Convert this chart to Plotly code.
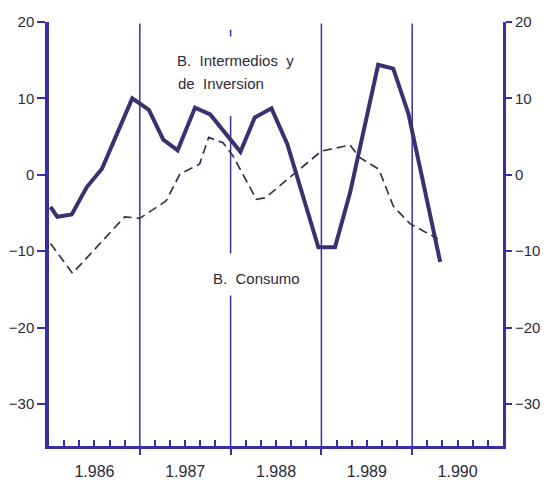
import plotly.graph_objects as go

# months counted from January 1986
bienes_interm_months = [0.2, 1.1, 3.0, 5.0, 7.0, 11.0, 13.2, 15.1, 17.0, 19.3, 21.3, 25.3,
                        27.2, 29.4, 31.5, 35.6, 37.8, 39.8, 43.5, 45.5, 47.5, 51.7]
bienes_interm_values = [-4.2, -5.5, -5.2, -1.6, 0.8, 10.0, 8.5, 4.6, 3.2, 8.8, 7.9, 3.0,
                        7.5, 8.7, 4.0, -9.5, -9.5, -2.3, 14.4, 13.9, 8.0, -11.4]

bienes_consumo_months = [0.2, 3.1, 10.0, 12.0, 15.5, 17.3, 19.9, 21.1, 23.0, 24.3, 27.4, 28.6,
                         36.0, 39.8, 41.0, 43.6, 45.5, 47.7, 51.4]
bienes_consumo_values = [-9.0, -12.9, -5.5, -5.7, -3.4, 0.1, 1.4, 4.9, 4.2, 2.5, -3.2, -3.0,
                         3.1, 3.9, 2.3, 0.7, -4.1, -6.4, -8.4]

year_labels = ["1.986", "1.987", "1.988", "1.989", "1.990"]
year_label_pos = [6, 18, 30, 42, 54]
year_bounds = [12, 24, 36, 48]
y_ticks = [-30, -20, -10, 0, 10, 20]
y_range = [-35.5, 20]
x_range = [0, 60]

AX = "#3a2ea6"
SOLID = "#3a3170"
DASH = "#34344a"
TXT = "#2b2b3a"
FONT = "Liberation Sans"

fig = go.Figure()
fig.add_trace(go.Scatter(x=bienes_consumo_months, y=bienes_consumo_values, mode="lines",
                         line=dict(color=DASH, width=1.7, dash="9px,5px"),
                         yaxis="y2", showlegend=False, hoverinfo="skip"))
fig.add_trace(go.Scatter(x=bienes_interm_months, y=bienes_interm_values, mode="lines",
                         line=dict(color=SOLID, width=4), showlegend=False, hoverinfo="skip"))
# invisible trace to activate label axis
fig.add_trace(go.Scatter(x=[x_range[0]], y=[0], xaxis="x2", mode="none",
                         showlegend=False, hoverinfo="skip"))

# vertical year lines
for xb in year_bounds:
    if xb == 24:
        segs = [(18.1, 19.0), (-10.3, 7.7), (-35.5, -15.8)]
    else:
        segs = [(-35.5, 19.8)]
    for y0, y1 in segs:
        fig.add_shape(type="line", x0=xb, x1=xb, y0=y0, y1=y1, xref="x", yref="y",
                      line=dict(color=AX, width=1.5), layer="below")

fig.add_annotation(x=16.7, y=14.9, text="B.  Intermedios  y", showarrow=False,
                   xanchor="left", yanchor="middle", font=dict(family=FONT, size=15, color=TXT))
fig.add_annotation(x=16.8, y=11.9, text="de  Inversion", showarrow=False,
                   xanchor="left", yanchor="middle", font=dict(family=FONT, size=15, color=TXT))
fig.add_annotation(x=21.4, y=-13.6, text="B.  Consumo", showarrow=False,
                   xanchor="left", yanchor="middle", font=dict(family=FONT, size=15, color=TXT))

fig.update_layout(
    width=548, height=472,
    margin=dict(l=41, r=53, t=14, b=34, autoexpand=False),
    paper_bgcolor="white", plot_bgcolor="white",
    font=dict(family=FONT, size=14, color=TXT),
    xaxis=dict(range=x_range, showgrid=False, zeroline=False, automargin=False,
               showline=True, linecolor=AX, linewidth=3,
               tickmode="array", tickvals=year_bounds, ticktext=["", "", "", ""],
               ticks="outside", ticklen=6, tickwidth=1.5, tickcolor=AX,
               minor=dict(tickmode="array", tickvals=[m for m in range(2, 60, 2) if m % 12],
                          ticks="inside", ticklen=6, tickwidth=1.5, tickcolor=AX,
                          showgrid=False)),
    xaxis2=dict(range=x_range, overlaying="x", side="bottom", anchor="y", automargin=False,
                showgrid=False, zeroline=False, showline=False,
                tickmode="array", tickvals=year_label_pos, ticktext=year_labels,
                ticks="", tickfont=dict(size=16, color=TXT), ticklabelstandoff=14),
    yaxis=dict(range=y_range, showgrid=False, zeroline=False, automargin=False,
               showline=True, linecolor=AX, linewidth=3.5,
               tickmode="array", tickvals=y_ticks,
               ticks="outside", ticklen=8, tickwidth=2, tickcolor=AX,
               tickfont=dict(size=15, color=TXT)),
    yaxis2=dict(range=y_range, overlaying="y", side="right", anchor="x", automargin=False,
                showgrid=False, zeroline=False,
                showline=True, linecolor=AX, linewidth=3,
                tickmode="array", tickvals=y_ticks,
                ticks="outside", ticklen=6, tickwidth=2, tickcolor=AX,
                tickfont=dict(size=15, color=TXT)),
)

fig.write_html("out.html")
